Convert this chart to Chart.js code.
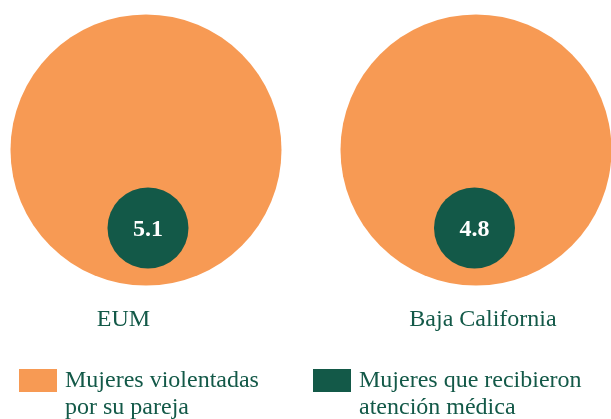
<!DOCTYPE html>
<html>
<head>
<meta charset="utf-8">
<script src="https://cdn.jsdelivr.net/npm/chart.js@4/dist/chart.umd.min.js"></script>
<style>
  body { margin: 0; background: #fff; }
  #wrap { width: 611px; height: 419px; }
</style>
</head>
<body>
<div id="wrap"><canvas id="myChart" width="611" height="419"></canvas></div>
<script>
// datos
const categorias = ['EUM', 'Baja California'];
const atencionMedica = [5.1, 4.8];
const leyenda = [
    ['Mujeres violentadas', 'por su pareja'],
    ['Mujeres que recibieron', 'atención médica']
];

const naranja = '#f79a54';
const verde = '#135948';
const fuente = "'Liberation Serif', 'Times New Roman', serif";

// etiquetas, valores y leyenda
const textos = {
    id: 'textos',
    afterDraw(chart) {
        const ctx = chart.ctx;
        ctx.save();

        // valores dentro del círculo verde
        const meta = chart.getDatasetMeta(0);
        ctx.fillStyle = '#ffffff';
        ctx.font = 'bold 24px ' + fuente;
        ctx.textAlign = 'center';
        ctx.textBaseline = 'alphabetic';
        meta.data.forEach((pt, i) => {
            ctx.fillText(atencionMedica[i].toString(), pt.x, pt.y + 8);
        });

        // nombres de las categorías
        const xl = chart.scales.xl;
        ctx.fillStyle = verde;
        ctx.font = '24px ' + fuente;
        categorias.forEach((c, i) => {
            ctx.fillText(c, xl.getPixelForValue(i), 326);
        });

        // leyenda
        const colores = [chart.data.datasets[1].backgroundColor, chart.data.datasets[0].backgroundColor];
        const xs = [19, 313];
        ctx.textAlign = 'left';
        leyenda.forEach((lineas, i) => {
            ctx.fillStyle = colores[i];
            ctx.fillRect(xs[i], 369, 38, 23);
            ctx.fillStyle = verde;
            lineas.forEach((t, j) => {
                ctx.fillText(t, xs[i] + 46, 387 + j * 27);
            });
        });
        ctx.restore();
    }
};

const ctx = document.getElementById('myChart');
const myChart = new Chart(ctx, {
    type: 'bubble',
    data: {
        datasets: [
            {
                label: leyenda[1].join(' '),
                data: categorias.map((c, i) => ({ x: i, y: -1 })),
                xAxisID: 'xv',
                backgroundColor: verde,
                borderWidth: 0,
                radius: 40.5,
                clip: false,
                order: 0
            },
            {
                label: leyenda[0].join(' '),
                data: categorias.map((c, i) => ({ x: i, y: 0 })),
                xAxisID: 'x',
                backgroundColor: naranja,
                borderWidth: 0,
                radius: 135.5,
                clip: false,
                order: 1
            }
        ]
    },
    options: {
        responsive: false,
        animation: false,
        events: [],
        layout: { padding: 0, autoPadding: false },
        scales: {
            x: { type: 'linear', display: false, min: -0.4424, max: 1.4091 },
            xv: { type: 'linear', axis: 'x', display: false, min: -0.4533, max: 1.4181 },
            xl: { type: 'linear', axis: 'x', display: false, min: -0.3435, max: 1.3561 },
            y: { type: 'linear', display: false, min: -3.4487, max: 1.9231 }
        },
        plugins: {
            legend: { display: false },
            tooltip: { enabled: false }
        }
    },
    plugins: [textos]
});
</script>
</body>
</html>
